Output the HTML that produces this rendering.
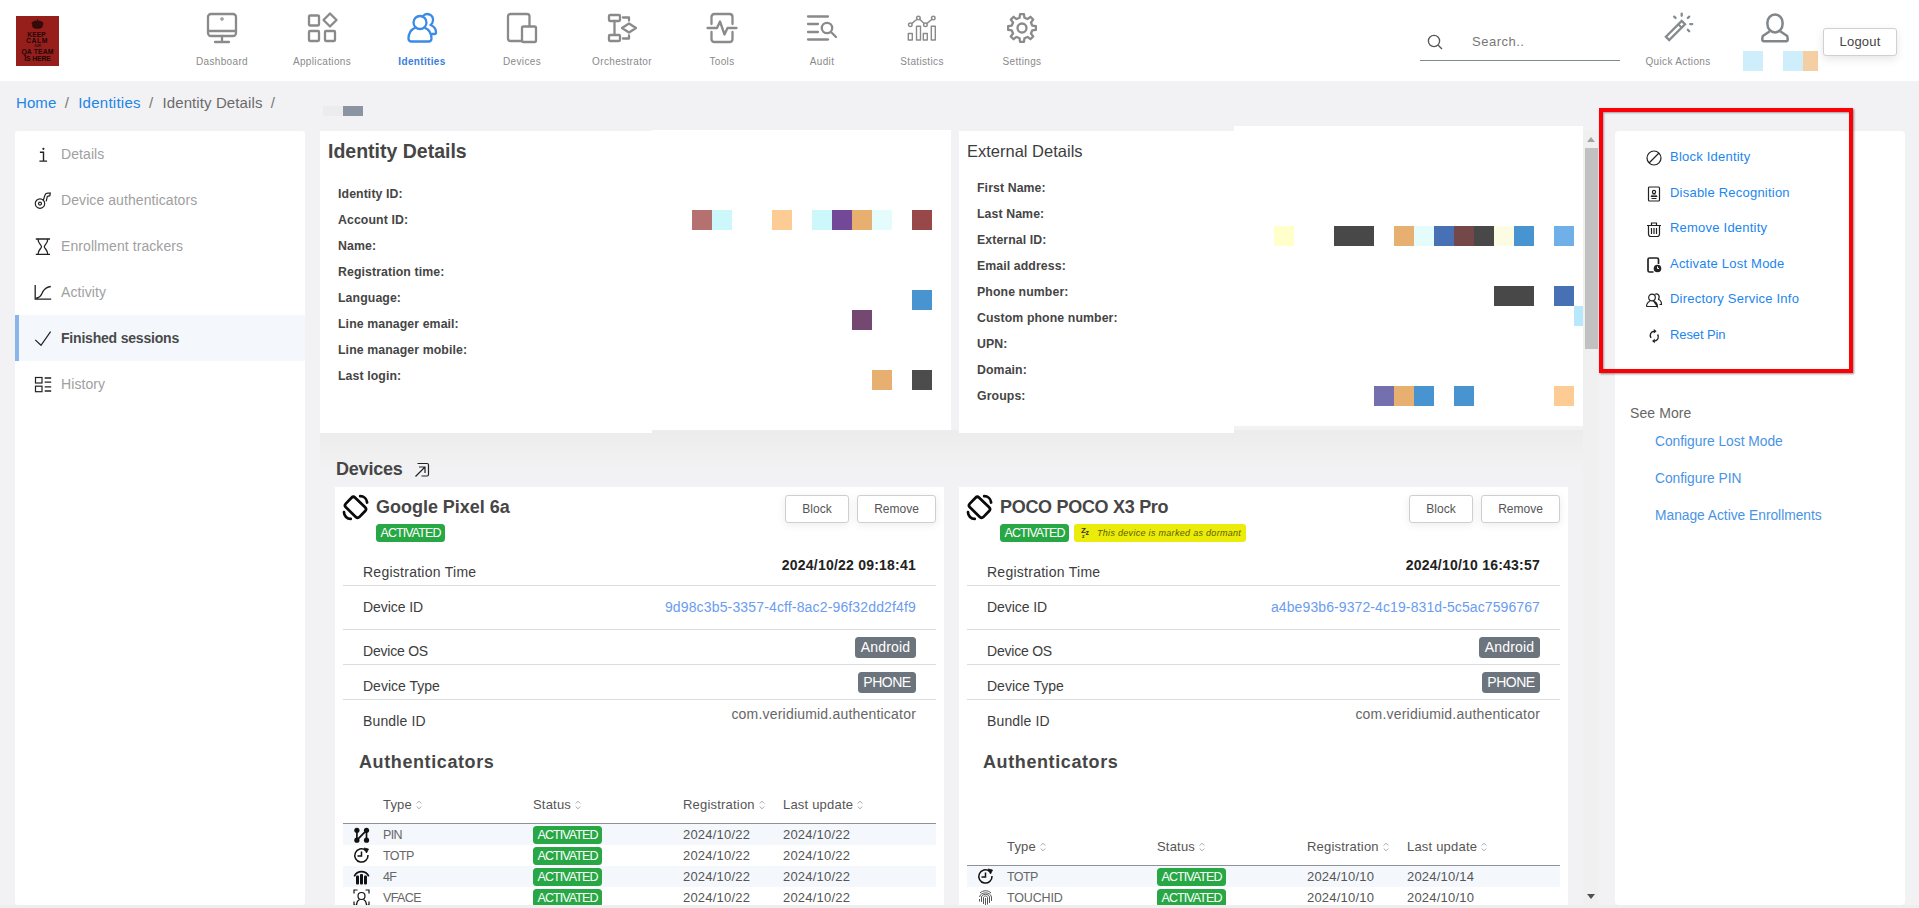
<!DOCTYPE html>
<html lang="en">
<head>
<meta charset="utf-8">
<title>Identity Details</title>
<style>
*{box-sizing:border-box;margin:0;padding:0}
html,body{width:1919px;height:908px;overflow:hidden}
body{background:#f2f2f4;font-family:"Liberation Sans",sans-serif;color:#444;position:relative;font-size:14px}
a{text-decoration:none;color:#1a7fe0}
.abs{position:absolute}
.t{position:absolute;white-space:nowrap;line-height:1}
svg{display:block;overflow:visible}

/* header */
#hdr{position:absolute;left:0;top:0;width:1919px;height:81px;background:#fff}
#logo{position:absolute;left:16px;top:16px;width:43px;height:50px;background:#961f1c;color:#1c0606;overflow:hidden}
#logo b{position:absolute;left:0;width:43px;text-align:center;line-height:1;white-space:nowrap;display:block}
.nav{position:absolute;top:0;width:100px;height:81px;text-align:center;color:#8a8a8a}
.nav svg{position:absolute;left:35px;top:13px;width:30px;height:30px;fill:none;stroke:#8a8a8a;stroke-width:2.300;stroke-linecap:round;stroke-linejoin:round}
.nav span{position:absolute;left:0;width:100px;top:56px;font-size:10px;line-height:12px;letter-spacing:.35px}
.nav.on{color:#3b7ddd}
.nav.on svg{stroke:#3b8be6}
.nav.on span{font-weight:bold}

/* breadcrumb */
#bc{position:absolute;left:16px;top:94px;font-size:15px;line-height:18px;color:#6b6b6b;white-space:nowrap;letter-spacing:.1px}
#bc a{color:#2185e8}
#bc i{font-style:normal;margin:0 9.200px 0 8.300px;color:#777}

/* sidebar */
#side{position:absolute;left:15px;top:131px;width:290px;height:774px;background:#fff;border-radius:3px}
.si{position:absolute;left:0;width:290px;height:46px;color:#a0a0a0;font-size:14px}
.si span{position:absolute;left:46px;top:15px;line-height:16px;white-space:nowrap;letter-spacing:.08px}
.si svg{position:absolute;left:18px;top:14px;width:18px;height:18px;fill:none;stroke:#222;stroke-width:1.2}
.si.on{background:#f4f8fc;border-left:4px solid #8ab5ea;color:#4a4a4a;font-weight:bold}
.si.on span{left:42px;letter-spacing:-.2px}
.si.on svg{left:14px}

/* cards */
.card{position:absolute;background:#fff}
.lbl{position:absolute;font-weight:bold;font-size:12.300px;line-height:14px;color:#454545;white-space:nowrap;letter-spacing:.1px}
.px{position:absolute;width:20px;height:20px}

/* right panel */
#rp{position:absolute;left:1615px;top:131px;width:290px;height:774px;background:#fff;border-radius:4px}
#red{position:absolute;left:1599px;top:108px;width:254px;height:265px;border:4px solid #fb0007;box-shadow:1px 1px 2px rgba(0,0,0,.45),inset 1px 1px 2px rgba(0,0,0,.35)}
.ra{position:absolute;margin-top:.5px;left:1670px;font-size:13px;line-height:16px;color:#1c86ee;white-space:nowrap;letter-spacing:.22px}
.ri{position:absolute;margin-top:.8px;left:1645px;width:18px;height:18px;fill:none;stroke:#222;stroke-width:1.2}
.sm{position:absolute;margin-top:1px;left:1655px;font-size:13.800px;line-height:16px;color:#4a94e6;white-space:nowrap;letter-spacing:-.02px}

/* devices */
.dev{position:absolute;top:487px;width:609px;height:418px;background:#fff;overflow:hidden}
.dev .ttl{position:absolute;left:41px;top:9px;font-size:18px;line-height:22px;font-weight:bold;color:#464646;white-space:nowrap;letter-spacing:-.02px}
.badge{position:absolute;background:#28a745;color:#fff;font-size:12px;line-height:17px;height:17px;border-radius:3px;padding:0 4px;white-space:nowrap;letter-spacing:-.2px}
.btn{position:absolute;top:8px;height:28px;border:1px solid #cfcfcf;border-radius:3px;background:#fff;font-size:12px;line-height:26px;text-align:center;color:#555;box-shadow:0 2px 8px rgba(0,0,0,.08)}
.rl{position:absolute;left:28px;font-size:14px;line-height:16px;color:#3d3d3d;white-space:nowrap;letter-spacing:.05px}
.rv{position:absolute;right:28px;font-size:14px;line-height:16px;white-space:nowrap}
.hr{position:absolute;left:8px;width:593px;height:1px;background:#dcdcdc}
.gb{position:absolute;right:28px;background:#6c757d;color:#fff;font-size:14px;line-height:21px;height:21px;border-radius:3.500px;padding:0;text-align:center;white-space:nowrap}
.auth{position:absolute;left:24px;font-size:18px;line-height:22px;font-weight:bold;color:#464646;letter-spacing:.6px}
.th{position:absolute;font-size:13px;line-height:15px;color:#555;white-space:nowrap;letter-spacing:.2px}
.th svg{display:inline-block;width:6px;height:10px;margin-left:4px;vertical-align:-1px;fill:none;stroke:#a8a8a8;stroke-width:1}
.tr{position:absolute;left:8px;width:593px;height:21px;font-size:13px;line-height:21px;color:#555}
.tr.odd{background:#f4f8fc}
.tr b{position:absolute;top:0;line-height:21px;font-weight:normal;white-space:nowrap;letter-spacing:.2px}
.tr .badge{top:2px;left:190px;letter-spacing:-.1px}
.tr svg{position:absolute;left:10px;top:2px;width:17px;height:17px}
</style>
</head>
<body>

<!-- HEADER -->
<div id="hdr">
  <div id="logo">
    <svg class="abs" style="left:15px;top:3px;width:13px;height:10px" viewBox="0 0 13 10"><path d="M6.500 0V2M1 4.500C1 2.500 4 2 6.500 2C9 2 12 2.500 12 4.500L10.800 8.500C8 9.800 5 9.800 2.200 8.500Z" fill="#1c0606" stroke="#1c0606" stroke-width=".8" opacity=".8"/></svg>
    <b style="top:15.500px;left:-1px;font-size:6.600px;letter-spacing:.1px">KEEP</b>
    <b style="top:21.500px;left:-.5px;font-size:6.800px;letter-spacing:.55px">CALM</b>
    <b style="top:28.800px;font-size:2.800px;letter-spacing:.1px">OUR</b>
    <b style="top:33.300px;font-size:6.800px;letter-spacing:.15px">QA TEAM</b>
    <b style="top:39.800px;font-size:6.800px;letter-spacing:-.1px">IS HERE</b>
  </div>
  <div class="nav" style="left:172px"><svg viewBox="0 0 30 30"><rect x="1" y="1" width="28" height="22" rx="3"/><path d="M1 18H29M15 23V28.5M8 29H22"/><circle cx="15" cy="6" r=".6"/></svg><span>Dashboard</span></div>
  <div class="nav" style="left:272px"><svg viewBox="0 0 30 30"><rect x="2" y="2.5" width="10" height="10" rx="1"/><rect x="2" y="18" width="10" height="10" rx="1"/><rect x="18" y="18" width="10" height="10" rx="1"/><path d="M23 0.5L29.5 7L23 13.5L16.5 7Z"/></svg><span>Applications</span></div>
  <div class="nav on" style="left:372px"><svg viewBox="0 0 30 30"><circle cx="13" cy="9.5" r="6.5"/><path d="M8.5 14.5C4 16.5 1.5 20 1.5 25.5C1.500 27.5 2.5 28.500 4.500 28.500H21.5C23.5 28.5 24.5 27.5 24.500 25.500C24.5 20 22 16.5 17.500 14.500"/><path d="M16.5 2.5C20 -0.5 26.5 1.5 26 7.5C25.8 9.5 25 11 23.500 12.000C27.5 13.5 29 16 29 19.5C29 20.5 28.5 21 27.500 21.000H25"/></svg><span>Identities</span></div>
  <div class="nav" style="left:472px"><svg viewBox="0 0 30 30"><path d="M15 28H3.5C2 28 1 27 1 25.5V3.500C1 2 2 1 3.500 1.000H20C21.5 1 22.5 2 22.500 3.500V13"/><rect x="15" y="13.5" width="14" height="15.5" rx="1.5"/></svg><span>Devices</span></div>
  <div class="nav" style="left:572px"><svg viewBox="0 0 30 30"><rect x="2" y="2" width="11" height="6" rx="1"/><rect x="2" y="22" width="11" height="6" rx="1"/><path d="M7.5 8V22M16 4.5H22V7.5M16 25.5H22V22.500M22 10.5L29 15L22 19.500L15 15Z"/></svg><span>Orchestrator</span></div>
  <div class="nav" style="left:672px"><svg viewBox="0 0 30 30"><path d="M4.5 11V4C4.5 2 5.5 1 7.500 1.000H22.5C24.5 1 25.5 2 25.500 4.000V11M4.500 19V26C4.5 28 5.5 29 7.500 29.000H22.5C24.5 29 25.5 28 25.500 26.000V19"/><path d="M0.500 15H10L13 8.500L17.500 21.500L20.500 15H29.500"/></svg><span>Tools</span></div>
  <div class="nav" style="left:772px"><svg viewBox="0 0 30 30"><path d="M1 3.500H21M1 11H11M1 19H11M1 26.500H21"/><circle cx="20" cy="15" r="5.2"/><path d="M24 19L29 24"/></svg><span>Audit</span></div>
  <div class="nav" style="left:872px"><svg viewBox="0 0 30 30"><g stroke-width="1.4"><rect x="1.300" y="20.500" width="4" height="6.500"/><rect x="9.500" y="13.200" width="4" height="13.800"/><rect x="16.300" y="20.500" width="4" height="6.500"/><rect x="24.300" y="13.200" width="4" height="13.800"/><circle cx="3.300" cy="11.800" r="1.800"/><circle cx="11.400" cy="5.100" r="1.800"/><circle cx="18.400" cy="11.800" r="1.800"/><circle cx="26.300" cy="5.100" r="1.800"/><path d="M4.700 10.600L10 6.300M12.700 6.300L17.100 10.600M19.700 10.600L25 6.300"/></g></svg><span>Statistics</span></div>
  <div class="nav" style="left:972px"><svg viewBox="0 0 30 30"><path d="M25.21 12.55 L28.86 13.03 L28.86 16.97 L25.21 17.45 L23.95 20.49 L26.20 23.41 L23.41 26.20 L20.49 23.95 L17.45 25.21 L16.97 28.86 L13.03 28.86 L12.55 25.21 L9.51 23.95 L6.59 26.20 L3.80 23.41 L6.05 20.49 L4.79 17.45 L1.14 16.97 L1.14 13.03 L4.79 12.55 L6.05 9.51 L3.80 6.59 L6.59 3.80 L9.51 6.05 L12.55 4.79 L13.03 1.14 L16.97 1.14 L17.45 4.79 L20.49 6.05 L23.41 3.80 L26.20 6.59 L23.95 9.51Z"/><circle cx="15" cy="15" r="4.500"/></svg><span>Settings</span></div>
  <svg class="abs" style="left:1426px;top:33px;width:18px;height:18px;fill:none;stroke:#555;stroke-width:1.3" viewBox="0 0 18 18"><circle cx="8" cy="8" r="5.6"/><path d="M12.200 12.200L16 16"/></svg>
  <div class="t" style="left:1472px;top:34px;font-size:13px;line-height:15px;color:#777;letter-spacing:.5px">Search..</div>
  <div class="abs" style="left:1420px;top:60px;width:200px;height:1px;background:#7d8c8c"></div>
  <svg class="abs" style="left:1662px;top:12px;width:32px;height:30px;fill:none;stroke:#858a8c;stroke-width:2.300;stroke-linecap:round" viewBox="0 0 32 30"><path d="M3.900 24.800L19.700 9L23 12.300L7.200 28.100Z" stroke-linejoin="miter"/><path d="M16.500 12.500L19.500 15.500" stroke-width="2"/><path d="M19.700 1.700V3.800M12.200 4.600L13.600 6M27.200 4.600L25.800 6M28.200 12.100H30.200M25.800 17.800L27.200 19.200"/></svg>
  <div class="t" style="left:1628px;top:56px;width:100px;text-align:center;font-size:10px;line-height:12px;color:#8a8a8a;letter-spacing:.35px">Quick Actions</div>
  <svg class="abs" style="left:1760px;top:12px;width:30px;height:32px;fill:none;stroke:#80878a;stroke-width:2.500;stroke-linejoin:round" viewBox="0 0 30 32"><rect x="7.400" y="2.400" width="15.200" height="18" rx="7.600" ry="8.300"/><path d="M9.800 19.300L2.800 24C2.500 25 2.300 26 2.300 28Q2.300 29.200 3.500 29.200H26.500Q27.700 29.200 27.700 28C27.700 26 27.500 25 27.200 24L20.200 19.300"/></svg>
  <div class="abs" style="left:1743px;top:51px;width:20px;height:20px;background:#cfeefc"></div>
  <div class="abs" style="left:1783px;top:51px;width:20px;height:20px;background:#cfeefc"></div>
  <div class="abs" style="left:1803px;top:51px;width:15px;height:20px;background:#f3cfa3"></div>
  <div class="abs" style="left:1823px;top:28px;width:74px;height:28px;border:1px solid #d0d0d0;border-radius:3px;background:#fff;box-shadow:0 3px 10px rgba(0,0,0,.10);font-size:13px;line-height:26px;text-align:center;color:#444;letter-spacing:.2px">Logout</div>
</div>

<!-- BREADCRUMB -->
<div id="bc"><a>Home</a><i>/</i><a style="letter-spacing:.25px">Identities</a><i>/</i>Identity Details<i>/</i></div>
<div class="abs" style="left:323px;top:106px;width:20px;height:10px;background:#ececec"></div>
<div class="abs" style="left:343px;top:106px;width:20px;height:10px;background:#8b95a1"></div>

<!-- SIDEBAR -->
<div id="side">
  <div class="si" style="top:0"><svg viewBox="0 0 18 18"><path d="M6.900 7.200H10.500V16.100M6.400 16.100H14.100" stroke-width="1.400"/><circle cx="10.400" cy="3.800" r="1.100" fill="#222" stroke="none"/></svg><span>Details</span></div>
  <div class="si" style="top:46px"><svg viewBox="0 0 18 18"><circle cx="7" cy="12.600" r="4.700"/><circle cx="7" cy="12.600" r="1.500"/><path d="M10.300 9.200L12 4C12.500 2.700 13.500 2.200 15 2.200H17.300L16.800 4.700L14.300 5.400L13.200 10.300"/></svg><span>Device authenticators</span></div>
  <div class="si" style="top:92px"><svg viewBox="0 0 18 18"><path d="M2.800 2H17M2.800 17.400H17M5 2C5 6.500 8.500 8 8.500 9.700C8.500 11.400 5 13 5 17.400M14.800 2C14.800 6.500 11.300 8 11.300 9.700C11.300 11.400 14.800 13 14.800 17.400" stroke-width="1.300"/></svg><span>Enrollment trackers</span></div>
  <div class="si" style="top:138px"><svg viewBox="0 0 18 18"><path d="M2.200 2V16.200H18.200M3.200 15C8.500 15 8.500 10.500 10.300 8C12 5.500 13.500 4 17.800 3.500" stroke-width="1.300"/></svg><span>Activity</span></div>
  <div class="si on" style="top:184px"><svg viewBox="0 0 18 18"><path d="M2.200 10.900L8 16.300L17.600 2.600" stroke-width="1.200"/></svg><span>Finished sessions</span></div>
  <div class="si" style="top:230px"><svg viewBox="0 0 18 18"><rect x="2.500" y="2.500" width="6.500" height="5.500"/><rect x="2.500" y="11.200" width="6.500" height="5.500"/><path d="M11.700 3H18.200M11.700 7.100H18.200M11.700 11.900H18.200M11.700 16H18.200" stroke-width="1.300"/></svg><span>History</span></div>
</div>

<!-- MAIN -->
<div id="main">
<div class="abs" style="left:320px;top:430px;width:1263px;height:40px;background:linear-gradient(#ececec,#f2f2f4)"></div>
<div class="card" style="left:320px;top:131px;width:332px;height:302px"></div>
<div class="card" style="left:652px;top:130px;width:299px;height:300px"></div>
<div class="t" style="left:328px;top:140px;font-size:19.500px;line-height:22px;font-weight:bold;color:#464646;letter-spacing:0">Identity Details</div>
<div class="lbl" style="left:338px;top:187px">Identity ID:</div>
<div class="lbl" style="left:338px;top:213px">Account ID:</div>
<div class="lbl" style="left:338px;top:239px">Name:</div>
<div class="lbl" style="left:338px;top:265px">Registration time:</div>
<div class="lbl" style="left:338px;top:291px">Language:</div>
<div class="lbl" style="left:338px;top:317px">Line manager email:</div>
<div class="lbl" style="left:338px;top:343px">Line manager mobile:</div>
<div class="lbl" style="left:338px;top:369px">Last login:</div>
<div class="px" style="left:692px;top:210px;width:20px;height:20px;background:#b57070"></div>
<div class="px" style="left:712px;top:210px;width:20px;height:20px;background:#ccf8fc"></div>
<div class="px" style="left:772px;top:210px;width:20px;height:20px;background:#fccc94"></div>
<div class="px" style="left:812px;top:210px;width:20px;height:20px;background:#ccf8fc"></div>
<div class="px" style="left:832px;top:210px;width:20px;height:20px;background:#744898"></div>
<div class="px" style="left:852px;top:210px;width:20px;height:20px;background:#e8b070"></div>
<div class="px" style="left:872px;top:210px;width:20px;height:20px;background:#e4fcfc"></div>
<div class="px" style="left:912px;top:210px;width:20px;height:20px;background:#984848"></div>
<div class="px" style="left:912px;top:290px;width:20px;height:20px;background:#4894d0"></div>
<div class="px" style="left:852px;top:310px;width:20px;height:20px;background:#744870"></div>
<div class="px" style="left:872px;top:370px;width:20px;height:20px;background:#e8b070"></div>
<div class="px" style="left:912px;top:370px;width:20px;height:20px;background:#4c4c4c"></div>
<div class="card" style="left:959px;top:131px;width:275px;height:302px"></div>
<div class="card" style="left:1234px;top:126px;width:349px;height:300px"></div>
<div class="t" style="left:967px;top:141px;font-size:16.500px;line-height:21px;color:#3d3d3d;letter-spacing:0">External Details</div>
<div class="lbl" style="left:977px;top:181px">First Name:</div>
<div class="lbl" style="left:977px;top:207px">Last Name:</div>
<div class="lbl" style="left:977px;top:233px">External ID:</div>
<div class="lbl" style="left:977px;top:259px">Email address:</div>
<div class="lbl" style="left:977px;top:285px">Phone number:</div>
<div class="lbl" style="left:977px;top:311px">Custom phone number:</div>
<div class="lbl" style="left:977px;top:337px">UPN:</div>
<div class="lbl" style="left:977px;top:363px">Domain:</div>
<div class="lbl" style="left:977px;top:389px">Groups:</div>
<div class="px" style="left:1274px;top:226px;width:20px;height:20px;background:#ffffcc"></div>
<div class="px" style="left:1334px;top:226px;width:40px;height:20px;background:#484848"></div>
<div class="px" style="left:1394px;top:226px;width:20px;height:20px;background:#e8b070"></div>
<div class="px" style="left:1414px;top:226px;width:20px;height:20px;background:#e4fcfc"></div>
<div class="px" style="left:1434px;top:226px;width:20px;height:20px;background:#4870b4"></div>
<div class="px" style="left:1454px;top:226px;width:20px;height:20px;background:#744848"></div>
<div class="px" style="left:1474px;top:226px;width:20px;height:20px;background:#484848"></div>
<div class="px" style="left:1494px;top:226px;width:20px;height:20px;background:#fcfce4"></div>
<div class="px" style="left:1514px;top:226px;width:20px;height:20px;background:#4894d0"></div>
<div class="px" style="left:1554px;top:226px;width:20px;height:20px;background:#70b0e8"></div>
<div class="px" style="left:1494px;top:286px;width:40px;height:20px;background:#484848"></div>
<div class="px" style="left:1554px;top:286px;width:20px;height:20px;background:#4870b4"></div>
<div class="px" style="left:1574px;top:306px;width:9px;height:20px;background:#b8e8fc"></div>
<div class="px" style="left:1374px;top:386px;width:20px;height:20px;background:#7470b0"></div>
<div class="px" style="left:1394px;top:386px;width:20px;height:20px;background:#e8b070"></div>
<div class="px" style="left:1414px;top:386px;width:20px;height:20px;background:#4894d0"></div>
<div class="px" style="left:1454px;top:386px;width:20px;height:20px;background:#4894d0"></div>
<div class="px" style="left:1554px;top:386px;width:20px;height:20px;background:#fccc94"></div>
<div class="abs" style="left:1583px;top:131px;width:15px;height:774px;background:#f0f0f1"></div>
<div class="abs" style="left:1585px;top:148px;width:13px;height:201px;background:#c1c1c1"></div>
<div class="abs" style="left:1587px;top:137px;width:0;height:0;border:4px solid transparent;border-top:0;border-bottom:5px solid #a3a3a3"></div>
<div class="abs" style="left:1587px;top:894px;width:0;height:0;border:4px solid transparent;border-bottom:0;border-top:5px solid #505050"></div>
<div class="t" style="left:336px;top:458px;font-size:18px;line-height:22px;font-weight:bold;color:#464646;letter-spacing:-.2px">Devices</div>
<svg class="abs" style="left:414px;top:461px;width:17px;height:17px;fill:none;stroke:#222;stroke-width:1.2" viewBox="0 0 17 17"><path d="M3.500 2.500H13C14 2.500 14.500 3 14.500 4V13.500C14.500 14.500 14 15 13 15H7.500"/><path d="M1.500 15.500L10.500 6.500M5 6H11V12"/></svg>
<div class="dev" style="left:335px">
<svg class="abs" style="left:8px;top:8px;width:25px;height:25px;fill:none;stroke:#0a0a0a;stroke-width:2.750;stroke-linecap:round" viewBox="0 0 25 25"><rect x="3" y="5.600" width="19" height="13.400" rx="2.600" transform="rotate(44 12.500 12.300)"/><path d="M17.200 1.200A7 7 0 0 1 24.100 7.500M1 17.200A6.800 6.800 0 0 0 7.700 23.900"/></svg>
<div class="ttl">Google Pixel 6a</div>
<div class="badge" style="left:41px;top:37px;height:18px;line-height:18px;font-size:12.500px;padding:0 0 0 4.500px;letter-spacing:-.92px;width:69px;border-radius:3.500px">ACTIVATED</div>
<div class="btn" style="left:450px;width:64px">Block</div>
<div class="btn" style="left:522px;width:79px">Remove</div>
<div class="rl" style="top:77px;letter-spacing:0.26px">Registration Time</div>
<div class="rv" style="top:70px;font-weight:bold;color:#222;letter-spacing:.22px">2024/10/22 09:18:41</div>
<div class="hr" style="top:98px"></div>
<div class="rl" style="top:112px;letter-spacing:-0.07px">Device ID</div>
<div class="rv" style="top:112px;color:#6a9cf0;letter-spacing:.15px">9d98c3b5-3357-4cff-8ac2-96f32dd2f4f9</div>
<div class="hr" style="top:142px"></div>
<div class="rl" style="top:156px;letter-spacing:-0.22px">Device OS</div>
<div class="gb" style="top:150px;width:61px;letter-spacing:.2px">Android</div>
<div class="hr" style="top:177px"></div>
<div class="rl" style="top:191px;letter-spacing:0px">Device Type</div>
<div class="gb" style="top:185px;width:58px;letter-spacing:-.5px">PHONE</div>
<div class="hr" style="top:212px"></div>
<div class="rl" style="top:226px;letter-spacing:0.15px">Bundle ID</div>
<div class="rv" style="top:219px;color:#666;letter-spacing:.2px">com.veridiumid.authenticator</div>
<div class="auth" style="top:264px">Authenticators</div>
<div class="th" style="left:48px;top:310px">Type<svg viewBox="0 0 6 10"><path d="M.7 3.500L3 1.200L5.300 3.500M.7 6.500L3 8.800L5.300 6.500"/></svg></div>
<div class="th" style="left:198px;top:310px">Status<svg viewBox="0 0 6 10"><path d="M.7 3.500L3 1.200L5.300 3.500M.7 6.500L3 8.800L5.300 6.500"/></svg></div>
<div class="th" style="left:348px;top:310px">Registration<svg viewBox="0 0 6 10"><path d="M.7 3.500L3 1.200L5.300 3.500M.7 6.500L3 8.800L5.300 6.500"/></svg></div>
<div class="th" style="left:448px;top:310px">Last update<svg viewBox="0 0 6 10"><path d="M.7 3.500L3 1.200L5.300 3.500M.7 6.500L3 8.800L5.300 6.500"/></svg></div>
<div class="abs" style="left:8px;top:336px;width:593px;height:1px;background:#8e9296"></div>
<div class="tr odd" style="top:337px"><svg viewBox="0 0 17 17" fill="none" stroke="#111" stroke-width="1.700"><path d="M3.900 4.300V14.200L13.500 4.300V14.200"/><circle cx="3.900" cy="4.300" r="2.600" fill="#111" stroke="none"/><circle cx="3.900" cy="14.200" r="2.600" fill="#111" stroke="none"/><circle cx="13.500" cy="4.300" r="2.600" fill="#111" stroke="none"/><circle cx="13.500" cy="14.200" r="2.600" fill="#111" stroke="none"/></svg><b style="left:40px;top:1px;font-size:12.500px;letter-spacing:-.6px;color:#666">PIN</b><div class="badge" style="height:18px;line-height:18px;font-size:12.500px;padding:0 0 0 4.500px;letter-spacing:-.92px;width:69px;border-radius:3.500px;top:2px">ACTIVATED</div><b style="left:340px">2024/10/22</b><b style="left:440px">2024/10/22</b></div>
<div class="tr" style="top:358px"><svg viewBox="0 0 17 17" fill="none" stroke="#111" stroke-width="1.500"><path d="M12.500 3.300A6.600 6.600 0 1 0 15 8"/><path d="M11 1L15.500 2L13.500 6Z" fill="#111" stroke-width=".8"/><path d="M8.500 4.500V9H4.500"/></svg><b style="left:40px;top:1px;font-size:12.500px;letter-spacing:-.6px;color:#666">TOTP</b><div class="badge" style="height:18px;line-height:18px;font-size:12.500px;padding:0 0 0 4.500px;letter-spacing:-.92px;width:69px;border-radius:3.500px;top:2px">ACTIVATED</div><b style="left:340px">2024/10/22</b><b style="left:440px">2024/10/22</b></div>
<div class="tr odd" style="top:379px"><svg viewBox="0 0 17 17" fill="#111" stroke="none"><path d="M0.500 8C3 1 14 1 16.500 8L15 8.700C12.500 3.200 4.500 3.200 2 8.700Z"/><rect x="3" y="7.500" width="3" height="9" rx="1"/><rect x="7" y="6" width="3" height="10.500" rx="1"/><rect x="11" y="7.500" width="3" height="9" rx="1"/></svg><b style="left:40px;top:1px;font-size:12.500px;letter-spacing:-.6px;color:#666">4F</b><div class="badge" style="height:18px;line-height:18px;font-size:12.500px;padding:0 0 0 4.500px;letter-spacing:-.92px;width:69px;border-radius:3.500px;top:2px">ACTIVATED</div><b style="left:340px">2024/10/22</b><b style="left:440px">2024/10/22</b></div>
<div class="tr" style="top:400px"><svg viewBox="0 0 17 17" fill="none" stroke="#111" stroke-width="1.200"><path d="M1 4.500V1H4.500M12.500 1H16V4.500M1 12.500V16H2.500M16 12.500V16H14.500"/><circle cx="8.500" cy="7" r="3.500"/><path d="M3.500 16.500C3.500 12.500 5.500 11 6.500 10.500M10.500 10.500C11.500 11 13.500 12.500 13.500 16.500"/></svg><b style="left:40px;top:1px;font-size:12.500px;letter-spacing:-.6px;color:#666">VFACE</b><div class="badge" style="height:18px;line-height:18px;font-size:12.500px;padding:0 0 0 4.500px;letter-spacing:-.92px;width:69px;border-radius:3.500px;top:2px">ACTIVATED</div><b style="left:340px">2024/10/22</b><b style="left:440px">2024/10/22</b></div>
</div>
<div class="dev" style="left:959px">
<svg class="abs" style="left:8px;top:8px;width:25px;height:25px;fill:none;stroke:#0a0a0a;stroke-width:2.750;stroke-linecap:round" viewBox="0 0 25 25"><rect x="3" y="5.600" width="19" height="13.400" rx="2.600" transform="rotate(44 12.500 12.300)"/><path d="M17.200 1.200A7 7 0 0 1 24.100 7.500M1 17.200A6.800 6.800 0 0 0 7.700 23.900"/></svg>
<div class="ttl" style="letter-spacing:-.3px">POCO POCO X3 Pro</div>
<div class="badge" style="left:41px;top:37px;height:18px;line-height:18px;font-size:12.500px;padding:0 0 0 4.500px;letter-spacing:-.92px;width:69px;border-radius:3.500px">ACTIVATED</div>
<div class="abs" style="left:115px;top:37px;width:172px;height:18px;background:#ecec0a;border-radius:3px"></div>
<div class="t" style="left:122px;top:40px;font-size:8px;line-height:8px;font-weight:bold;color:#333;letter-spacing:-.3px">Z<span style="font-size:7px;position:relative;top:2px">z</span></div><div class="t" style="left:123px;top:47px;font-size:5px;line-height:5px;font-weight:bold;color:#333">z</div>
<div class="t" style="left:138px;top:41px;font-size:9px;line-height:11px;font-style:italic;color:#5c5c00;letter-spacing:.3px">This device is marked as dormant</div>
<div class="btn" style="left:450px;width:64px">Block</div>
<div class="btn" style="left:522px;width:79px">Remove</div>
<div class="rl" style="top:77px;letter-spacing:0.26px">Registration Time</div>
<div class="rv" style="top:70px;font-weight:bold;color:#222;letter-spacing:.22px">2024/10/10 16:43:57</div>
<div class="hr" style="top:98px"></div>
<div class="rl" style="top:112px;letter-spacing:-0.07px">Device ID</div>
<div class="rv" style="top:112px;color:#6a9cf0;letter-spacing:.1px">a4be93b6-9372-4c19-831d-5c5ac7596767</div>
<div class="hr" style="top:142px"></div>
<div class="rl" style="top:156px;letter-spacing:-0.22px">Device OS</div>
<div class="gb" style="top:150px;width:61px;letter-spacing:.2px">Android</div>
<div class="hr" style="top:177px"></div>
<div class="rl" style="top:191px;letter-spacing:0px">Device Type</div>
<div class="gb" style="top:185px;width:58px;letter-spacing:-.5px">PHONE</div>
<div class="hr" style="top:212px"></div>
<div class="rl" style="top:226px;letter-spacing:0.15px">Bundle ID</div>
<div class="rv" style="top:219px;color:#666;letter-spacing:.2px">com.veridiumid.authenticator</div>
<div class="auth" style="top:264px">Authenticators</div>
<div class="th" style="left:48px;top:352px">Type<svg viewBox="0 0 6 10"><path d="M.7 3.500L3 1.200L5.300 3.500M.7 6.500L3 8.800L5.300 6.500"/></svg></div>
<div class="th" style="left:198px;top:352px">Status<svg viewBox="0 0 6 10"><path d="M.7 3.500L3 1.200L5.300 3.500M.7 6.500L3 8.800L5.300 6.500"/></svg></div>
<div class="th" style="left:348px;top:352px">Registration<svg viewBox="0 0 6 10"><path d="M.7 3.500L3 1.200L5.300 3.500M.7 6.500L3 8.800L5.300 6.500"/></svg></div>
<div class="th" style="left:448px;top:352px">Last update<svg viewBox="0 0 6 10"><path d="M.7 3.500L3 1.200L5.300 3.500M.7 6.500L3 8.800L5.300 6.500"/></svg></div>
<div class="abs" style="left:8px;top:378px;width:593px;height:1px;background:#8e9296"></div>
<div class="tr odd" style="top:379px"><svg viewBox="0 0 17 17" fill="none" stroke="#111" stroke-width="1.500"><path d="M12.500 3.300A6.600 6.600 0 1 0 15 8"/><path d="M11 1L15.500 2L13.500 6Z" fill="#111" stroke-width=".8"/><path d="M8.500 4.500V9H4.500"/></svg><b style="left:40px;top:1px;font-size:12.500px;letter-spacing:-.6px;color:#666">TOTP</b><div class="badge" style="height:18px;line-height:18px;font-size:12.500px;padding:0 0 0 4.500px;letter-spacing:-.92px;width:69px;border-radius:3.500px;top:2px">ACTIVATED</div><b style="left:340px">2024/10/10</b><b style="left:440px">2024/10/14</b></div>
<div class="tr" style="top:400px"><svg viewBox="0 0 17 17" fill="none" stroke="#444" stroke-width=".9"><path d="M3 4C6 1 11 1 14 4M2.500 8C3.500 2.500 13.500 2.500 14.500 8V12M4.500 13V8C5 4.500 12 4.500 12.500 8V14M6.500 15V8.500C7 6.500 10 6.500 10.500 8.500V15.500M8.500 9V16.500M2.500 10V12.500"/></svg><b style="left:40px;top:1px;font-size:12.500px;letter-spacing:-.15px;color:#666">TOUCHID</b><div class="badge" style="height:18px;line-height:18px;font-size:12.500px;padding:0 0 0 4.500px;letter-spacing:-.92px;width:69px;border-radius:3.500px;top:2px">ACTIVATED</div><b style="left:340px">2024/10/10</b><b style="left:440px">2024/10/10</b></div>
</div>
</div>

<!-- RIGHT PANEL -->
<div id="rp"></div>
<svg class="ri" style="top:148px" viewBox="0 0 18 18"><circle cx="9" cy="9" r="7"/><path d="M4 14L14 4"/></svg>
<div class="ra" style="top:148px">Block Identity</div>
<svg class="ri" style="top:184px" viewBox="0 0 18 18"><rect x="3.500" y="2" width="11" height="14" rx="1"/><circle cx="9" cy="7" r="1.600"/><path d="M6 11.500C6 9.500 12 9.500 12 11.500ZM6.500 13.500H11.500" stroke-width="1"/></svg>
<div class="ra" style="top:184px">Disable Recognition</div>
<svg class="ri" style="top:219px" viewBox="0 0 18 18"><path d="M2 5.500H16M6.500 5.500V3H11.500V5.500M3.500 5.500V14C3.500 15.500 4.500 16.500 6 16.500H12C13.500 16.500 14.500 15.500 14.500 14V5.500M6.500 8V14M9 8V14M11.500 8V14"/></svg>
<div class="ra" style="top:219px">Remove Identity</div>
<svg class="ri" style="top:255px" viewBox="0 0 18 18"><path d="M13.500 8V3.500C13.500 2.500 13 2 12 2H4.500C3.500 2 3 2.500 3 3.500V14.500C3 15.500 3.500 16 4.500 16H8.500" stroke-width="1.700"/><circle cx="12.500" cy="12.500" r="3.800" fill="#222" stroke="none"/><path d="M12.500 10.500V12.500H14" stroke="#fff" stroke-width="1"/></svg>
<div class="ra" style="top:255px">Activate Lost Mode</div>
<svg class="ri" style="top:290px" viewBox="0 0 18 18"><circle cx="7" cy="6.500" r="3.300"/><path d="M1.500 15.500C1.500 12 4 10.500 5 10.500M9 10.500C10 10.500 12.500 12 12.500 15.500ZM1.500 15.500H12.500"/><path d="M10 3.300C12.500 2 15.500 4.500 13.500 8.500C15 9 16.500 11 16.500 13.500H14.500"/></svg>
<div class="ra" style="top:290px">Directory Service Info</div>
<svg class="ri" style="top:326px" viewBox="0 0 18 18"><path d="M9.300 4.300C5.800 4.300 4.200 8 6 10.800M9.300 14C12.800 14 14.400 10.300 12.600 7.500" stroke-width="1.400"/><path d="M8.800 2L11.600 4.300L8.800 6.600ZM9.800 11.700L7 14L9.800 16.300Z" fill="#222" stroke="none"/></svg>
<div class="ra" style="top:326px;letter-spacing:-.1px">Reset Pin</div>
<div id="red"></div>
<div class="t" style="left:1630px;top:405px;font-size:14px;line-height:16px;color:#666;letter-spacing:.1px">See More</div>
<div class="sm" style="top:433px">Configure Lost Mode</div>
<div class="sm" style="top:470px">Configure PIN</div>
<div class="sm" style="top:507px">Manage Active Enrollments</div>

<div class="abs" style="left:0;top:905px;width:1919px;height:3px;background:#eeeeef"></div>
</body>
</html>
